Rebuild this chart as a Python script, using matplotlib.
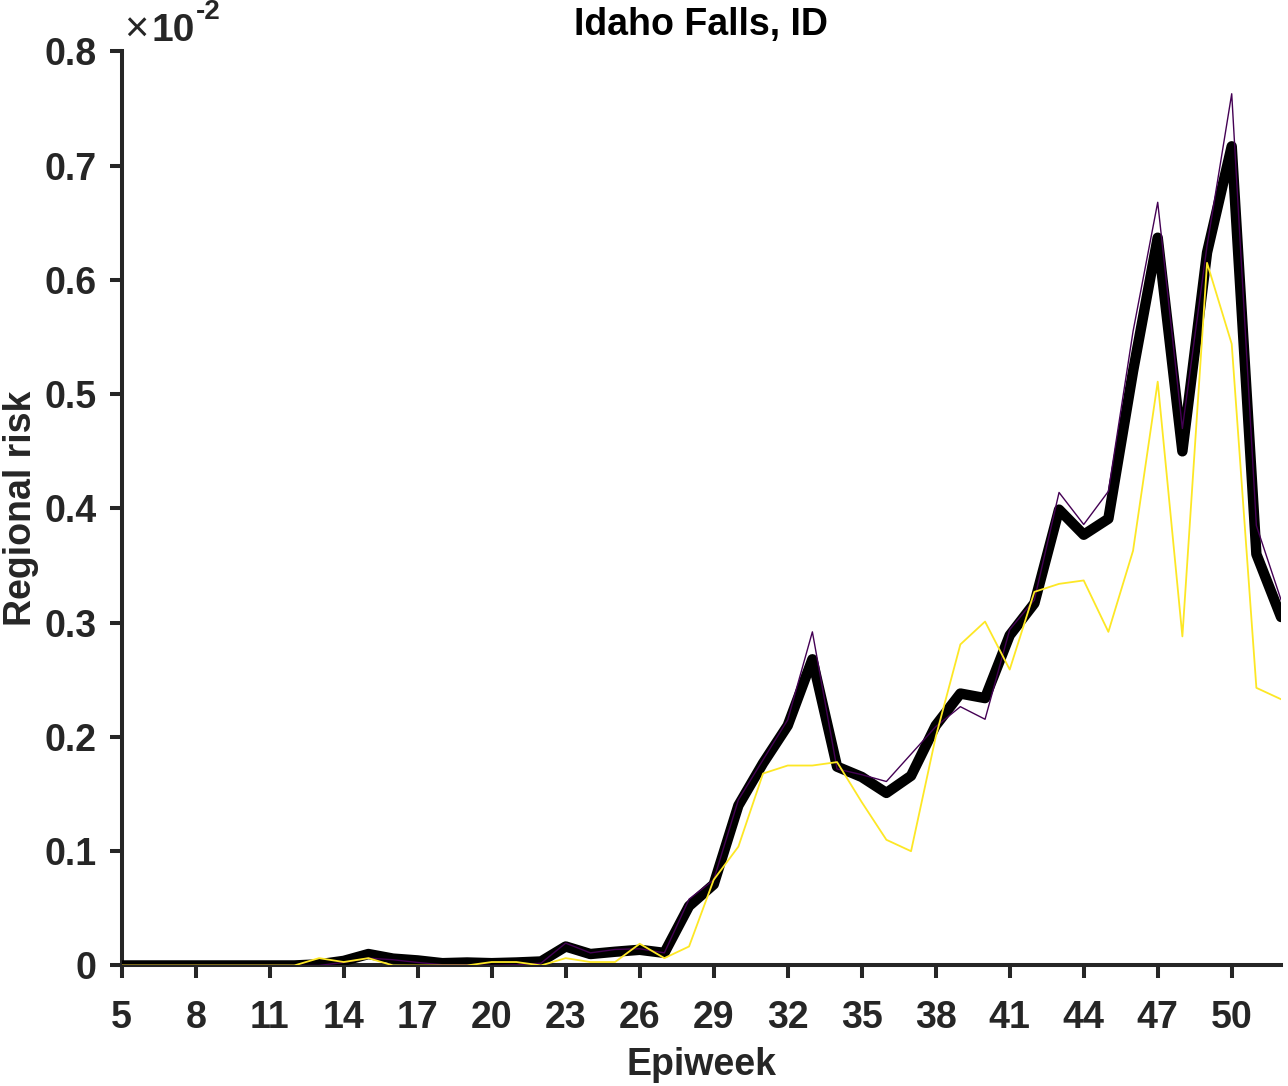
import numpy as np
import matplotlib
matplotlib.use('Agg')
import matplotlib.pyplot as plt

# epiweeks on the x axis
weeks = list(range(5, 53))

# regional risk, in units of 1e-2
risk_mean = [0.0, 0.0, 0.0, 0.0, 0.0, 0.0, 0.0, 0.0,
             0.001, 0.004, 0.010, 0.006, 0.0044, 0.002, 0.0026, 0.002,
             0.0026, 0.0035, 0.0166, 0.010, 0.012, 0.0137, 0.011, 0.052,
             0.071, 0.140, 0.177, 0.210, 0.268, 0.174, 0.165, 0.151,
             0.166, 0.210, 0.238, 0.234, 0.289, 0.317, 0.399, 0.377,
             0.391, 0.520, 0.637, 0.450, 0.624, 0.717, 0.360, 0.305]
risk_purple = [0.0, 0.0, 0.0, 0.0, 0.0, 0.0, 0.0, 0.0,
               0.0, 0.0026, 0.0064, 0.005, 0.0026, 0.0006, 0.0006, 0.0,
               0.0005, 0.002, 0.0195, 0.011, 0.014, 0.0146, 0.011, 0.058,
               0.075, 0.145, 0.180, 0.215, 0.292, 0.172, 0.167, 0.161,
               0.185, 0.209, 0.2265, 0.2155, 0.294, 0.320, 0.414, 0.386,
               0.415, 0.555, 0.668, 0.470, 0.630, 0.763, 0.385, 0.320]
risk_yellow = [0.0, 0.0, 0.0, 0.0, 0.0, 0.0, 0.0, 0.0,
               0.0064, 0.003, 0.0064, 0.0, 0.0, 0.0, 0.0, 0.003,
               0.003, 0.0, 0.0064, 0.003, 0.003, 0.019, 0.0064, 0.0166,
               0.075, 0.104, 0.168, 0.175, 0.175, 0.178, 0.143, 0.110,
               0.100, 0.200, 0.281, 0.301, 0.259, 0.327, 0.334, 0.337,
               0.292, 0.363, 0.511, 0.288, 0.615, 0.544, 0.243, 0.233]

xticks = list(range(5, 51, 3))
yticks = [0, 0.1, 0.2, 0.3, 0.4, 0.5, 0.6, 0.7, 0.8]
ytick_labels = ['0', '0.1', '0.2', '0.3', '0.4', '0.5', '0.6', '0.7', '0.8']

plt.rcParams['font.family'] = ['Liberation Sans', 'DejaVu Sans']
plt.rcParams['font.weight'] = 'bold'

axc = '#262626'
fs = 27
fig = plt.figure(figsize=(12.88, 10.86), dpi=100)
ax = fig.add_axes([0.0945, 0.111, 0.9001, 0.8416])

ax.plot(weeks, risk_mean, color='black', lw=7.5, solid_joinstyle='round',
        solid_capstyle='round', zorder=3)
ax.plot(weeks, risk_purple, color='#440154', lw=1.0, zorder=4)
ax.plot(weeks, risk_yellow, color='#fde725', lw=1.3, zorder=5)

ax.set_xlim(5, 52)
ax.set_ylim(0, 0.8)
ax.set_xticks(xticks)
ax.set_yticks(yticks)
ax.set_yticklabels(ytick_labels)

for s in ['top', 'right']:
    ax.spines[s].set_visible(False)
for s in ['left', 'bottom']:
    ax.spines[s].set_linewidth(2.9)
    ax.spines[s].set_color(axc)
ax.tick_params(direction='out', length=9, width=2.9, color=axc,
               labelcolor=axc, labelsize=fs)
ax.tick_params(axis='x', pad=16)
ax.tick_params(axis='y', pad=9)
for lab in ax.get_xticklabels() + ax.get_yticklabels():
    lab.set_fontweight('bold')

ax.set_title('Idaho Falls, ID', fontsize=fs, fontweight='bold', color='black', pad=12)
ax.set_xlabel('Epiweek', fontsize=fs, fontweight='bold', color=axc, labelpad=8)
ax.set_ylabel('Regional risk', fontsize=fs, fontweight='bold', color=axc, labelpad=4)

# exponent label, MATLAB style
fig.text(124 / 1288, 1 - 31 / 1086, '\u00d7', fontsize=30, fontweight='normal',
         color=axc, va='center', ha='left')
fig.text(151 / 1288, 1 - 41 / 1086, '10', fontsize=fs + 1, fontweight='bold',
         color=axc, va='baseline', ha='left')
fig.text(196 / 1288, 1 - 19 / 1086, '-2', fontsize=20, fontweight='bold',
         color=axc, va='baseline', ha='left')

fig.savefig('out.png', dpi=100)
